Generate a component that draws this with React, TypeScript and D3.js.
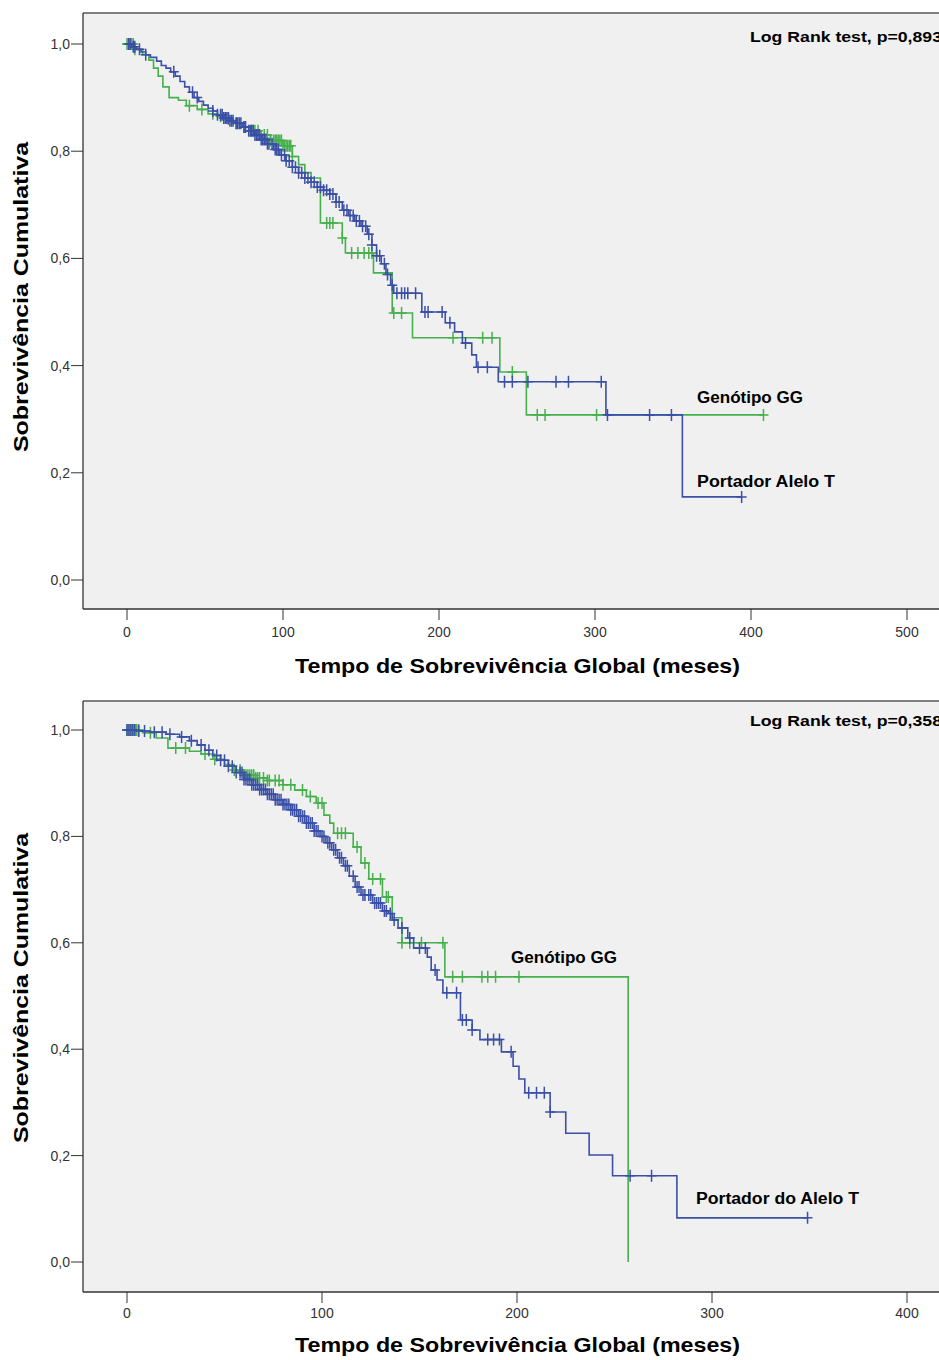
import React, { useEffect, useRef } from 'react';
import * as d3 from 'd3';

type Step = [number, number];

// Painel superior: [tempo (meses), sobrevivência após o evento]
const topGgSteps: Step[] = [
  [5, 0.99], [10, 0.98], [14, 0.97], [17, 0.955], [20, 0.94], [23, 0.92], [27, 0.9],
  [33, 0.895], [38, 0.885], [45, 0.878], [52, 0.87], [58, 0.865], [63, 0.86], [68, 0.852],
  [74, 0.845], [80, 0.838], [86, 0.83], [92, 0.82], [100, 0.81], [106, 0.79], [110, 0.775],
  [114, 0.76], [118, 0.75], [124, 0.666], [138, 0.638], [140, 0.61], [158, 0.573],
  [170, 0.498], [183, 0.452], [239, 0.388], [256, 0.308],
];
const topGgCensors = [
  0, 1, 2, 3, 4, 5, 40, 48, 55, 60, 65, 70, 75, 80, 82, 84, 88, 90, 92, 94, 95, 96, 97, 98,
  99, 100, 101, 102, 103, 104, 105, 106, 128, 130, 132, 138, 144, 148, 152, 155, 157, 171,
  176, 209, 228, 234, 247, 263, 268, 301, 408,
];
const topTSteps: Step[] = [
  [3, 0.995], [6, 0.99], [9, 0.985], [12, 0.98], [15, 0.975], [19, 0.968], [22, 0.96],
  [25, 0.955], [28, 0.948], [31, 0.94], [34, 0.93], [37, 0.92], [40, 0.91], [43, 0.9],
  [46, 0.893], [49, 0.886], [52, 0.88], [55, 0.875], [58, 0.868], [62, 0.862], [66, 0.857],
  [70, 0.852], [74, 0.845], [78, 0.838], [82, 0.83], [86, 0.822], [90, 0.814], [94, 0.803],
  [98, 0.793], [102, 0.782], [106, 0.77], [110, 0.76], [114, 0.75], [118, 0.742],
  [122, 0.733], [126, 0.727], [130, 0.72], [134, 0.705], [138, 0.69], [142, 0.68],
  [146, 0.67], [150, 0.66], [154, 0.645], [157, 0.625], [160, 0.605], [163, 0.59],
  [166, 0.57], [169, 0.55], [171, 0.535], [189, 0.5], [204, 0.48], [210, 0.463],
  [215, 0.442], [221, 0.42], [224, 0.397], [238, 0.37], [307, 0.308], [356, 0.155],
];
const topTCensors = [
  1, 2, 4, 5, 8, 12, 30, 42, 45, 55, 58, 60, 61, 62, 63, 64, 65, 66, 67, 68, 70, 71, 72, 73,
  75, 76, 78, 79, 80, 81, 82, 83, 84, 85, 86, 87, 88, 89, 90, 91, 93, 95, 96, 97, 99, 101,
  102, 104, 106, 108, 110, 112, 114, 116, 118, 120, 122, 124, 126, 128, 130, 132, 134, 136,
  139, 141, 143, 145, 147, 149, 151, 153, 155, 157, 160, 162, 165, 167, 170, 173, 176, 178,
  180, 185, 191, 193, 202, 207, 217, 225, 231, 242, 247, 257, 275, 283, 304, 308, 335, 349,
  394,
];

// Painel inferior
const bottomGgSteps: Step[] = [
  [8, 0.995], [15, 0.985], [21, 0.966], [32, 0.96], [38, 0.955], [44, 0.945], [50, 0.935],
  [55, 0.925], [60, 0.915], [66, 0.91], [72, 0.905], [80, 0.897], [86, 0.887], [92, 0.875],
  [97, 0.863], [101, 0.84], [104, 0.825], [106, 0.806], [116, 0.78], [120, 0.75],
  [124, 0.72], [131, 0.686], [136, 0.647], [141, 0.6], [163, 0.536], [257, 0],
];
const bottomGgCensors = [
  0, 1, 2, 3, 4, 5, 6, 12, 25, 30, 40, 45, 55, 58, 60, 61, 62, 63, 64, 65, 66, 67, 68, 70,
  72, 73, 76, 78, 80, 84, 90, 94, 98, 100, 108, 110, 112, 118, 122, 126, 130, 133, 134, 141,
  145, 151, 162, 167, 172, 182, 185, 189, 201,
];
const bottomTSteps: Step[] = [
  [5, 0.998], [12, 0.996], [20, 0.992], [27, 0.987], [32, 0.98], [36, 0.972], [40, 0.962],
  [44, 0.952], [48, 0.943], [52, 0.932], [56, 0.92], [60, 0.907], [64, 0.897], [68, 0.888],
  [72, 0.879], [76, 0.869], [80, 0.86], [84, 0.85], [88, 0.838], [92, 0.825], [96, 0.81],
  [99, 0.8], [102, 0.788], [105, 0.775], [108, 0.76], [111, 0.745], [114, 0.725],
  [117, 0.705], [120, 0.69], [126, 0.675], [131, 0.66], [134, 0.655], [136, 0.643],
  [139, 0.628], [144, 0.609], [147, 0.59], [154, 0.573], [156, 0.549], [159, 0.53],
  [162, 0.506], [171, 0.455], [177, 0.436], [181, 0.418], [192, 0.395], [198, 0.368],
  [201, 0.344], [204, 0.318], [217, 0.282], [225, 0.242], [237, 0.201], [249, 0.162],
  [282, 0.083],
];
const bottomTCensors = [
  0, 1, 2, 3, 4, 6, 9, 14, 18, 22, 28, 33, 38, 42, 46, 48, 50, 52, 54, 56, 58, 59, 60, 61,
  62, 63, 64, 65, 66, 67, 68, 69, 70, 71, 72, 73, 74, 75, 76, 77, 78, 79, 80, 81, 82, 83, 84,
  85, 86, 87, 88, 89, 90, 91, 92, 93, 94, 95, 96, 97, 98, 100, 101, 103, 104, 106, 107, 109,
  110, 112, 113, 116, 118, 119, 121, 122, 124, 125, 127, 128, 129, 130, 132, 133, 135, 137,
  141, 145, 150, 153, 158, 164, 169, 172, 174, 177, 185, 188, 191, 197, 206, 210, 214, 217,
  258, 269, 349,
];

const yTickValues = [0, 0.2, 0.4, 0.6, 0.8, 1.0];
const yTickLabels = ['0,0', '0,2', '0,4', '0,6', '0,8', '1,0'];
const topXTicks = [0, 100, 200, 300, 400, 500];
const bottomXTicks = [0, 100, 200, 300, 400];
const xTitle = 'Tempo de Sobrevivência Global (meses)';
const yTitle = 'Sobrevivência Cumulativa';
const topLogRank = 'Log Rank test, p=0,893';
const bottomLogRank = 'Log Rank test, p=0,358';
const topLabels = ['Genótipo GG', 'Portador Alelo T'];
const bottomLabels = ['Genótipo GG', 'Portador do Alelo T'];

const BLUE = '#3a4fa6';
const GREEN = '#46b04d';
const FONT = '"Liberation Sans", Arial, sans-serif';

const survAt = (steps: Step[], t: number) => {
  let s = 1;
  for (const [st, sv] of steps) {
    if (st <= t) s = sv;
    else break;
  }
  return s;
};

interface Panel {
  boxTop: number;
  boxBottom: number;
  y1: number;
  y0: number;
  xMax: number;
  xTicks: number[];
  gg: Step[];
  ggC: number[];
  t: Step[];
  tC: number[];
  logRank: string;
  logRankY: number;
  labels: string[];
  labelPos: { x: number; y: number; w: number }[];
  tickLabelY: number;
  titleY: number;
  yTitleCenter: number;
}

export default function App() {
  const svgRef = useRef<SVGSVGElement>(null);

  useEffect(() => {
    document.body.style.margin = '0';
    if (!svgRef.current) return;
    const svg = d3.select(svgRef.current);
    svg.selectAll('*').remove();

    const width = 939;
    const height = 1360;
    svg.attr('width', width).attr('height', height);
    svg.append('rect').attr('width', width).attr('height', height).attr('fill', '#fff');

    const panels: Panel[] = [
      {
        boxTop: 13, boxBottom: 609, y1: 44, y0: 580, xMax: 500, xTicks: topXTicks,
        gg: topGgSteps, ggC: topGgCensors, t: topTSteps, tC: topTCensors,
        logRank: topLogRank, logRankY: 42, labels: topLabels,
        labelPos: [{ x: 697, y: 403, w: 106 }, { x: 697, y: 487, w: 138 }],
        tickLabelY: 637, titleY: 673, yTitleCenter: 297,
      },
      {
        boxTop: 701, boxBottom: 1292, y1: 730, y0: 1262, xMax: 400, xTicks: bottomXTicks,
        gg: bottomGgSteps, ggC: bottomGgCensors, t: bottomTSteps, tC: bottomTCensors,
        logRank: bottomLogRank, logRankY: 726, labels: bottomLabels,
        labelPos: [{ x: 511, y: 963, w: 106 }, { x: 696, y: 1204, w: 163 }],
        tickLabelY: 1318, titleY: 1352, yTitleCenter: 988,
      },
    ];

    const left = 83;

    panels.forEach((p) => {
      const x = d3.scaleLinear().domain([0, p.xMax]).range([127, 907]);
      const y = d3.scaleLinear().domain([0, 1]).range([p.y0, p.y1]);
      const g = svg.append('g');

      // fundo do gráfico
      g.append('rect')
        .attr('x', left).attr('y', p.boxTop)
        .attr('width', width - left + 20).attr('height', p.boxBottom - p.boxTop)
        .attr('fill', '#f0f0f0');
      g.append('line')
        .attr('x1', left).attr('x2', width).attr('y1', p.boxTop).attr('y2', p.boxTop)
        .attr('stroke', '#808080').attr('stroke-width', 2);
      g.append('line')
        .attr('x1', left).attr('x2', left).attr('y1', p.boxTop).attr('y2', p.boxBottom)
        .attr('stroke', '#333').attr('stroke-width', 1.3);
      g.append('line')
        .attr('x1', left).attr('x2', width).attr('y1', p.boxBottom).attr('y2', p.boxBottom)
        .attr('stroke', '#333').attr('stroke-width', 1.5);

      // eixo y
      yTickValues.forEach((v, i) => {
        g.append('line')
          .attr('x1', left - 12).attr('x2', left).attr('y1', y(v)).attr('y2', y(v))
          .attr('stroke', '#333').attr('stroke-width', 1);
        g.append('text')
          .attr('x', left - 13).attr('y', y(v) + 5)
          .attr('text-anchor', 'end')
          .attr('font-family', FONT).attr('font-size', 14).attr('fill', '#333')
          .text(yTickLabels[i]);
      });

      // eixo x
      p.xTicks.forEach((v) => {
        g.append('line')
          .attr('x1', x(v)).attr('x2', x(v)).attr('y1', p.boxBottom).attr('y2', p.boxBottom + 11)
          .attr('stroke', '#333').attr('stroke-width', 1);
        g.append('text')
          .attr('x', x(v)).attr('y', p.tickLabelY)
          .attr('text-anchor', 'middle')
          .attr('font-family', FONT).attr('font-size', 14).attr('fill', '#333')
          .text(String(v));
      });

      g.append('text')
        .attr('x', 295).attr('y', p.titleY)
        .attr('font-family', FONT).attr('font-size', 21).attr('font-weight', 'bold')
        .attr('textLength', 445).attr('lengthAdjust', 'spacingAndGlyphs')
        .text(xTitle);

      g.append('text')
        .attr('transform', `translate(28, ${p.yTitleCenter + 155}) rotate(-90)`)
        .attr('font-family', FONT).attr('font-size', 20).attr('font-weight', 'bold')
        .attr('textLength', 310).attr('lengthAdjust', 'spacingAndGlyphs')
        .text(yTitle);

      // curvas de Kaplan-Meier
      const line = d3.line<Step>()
        .x((d) => x(d[0]))
        .y((d) => y(d[1]))
        .curve(d3.curveStepAfter);

      const drawCurve = (steps: Step[], censors: number[], color: string) => {
        const last = steps[steps.length - 1];
        const end = Math.max(last[0], d3.max(censors) ?? 0);
        const pts: Step[] = [[0, 1], ...steps];
        if (end > last[0]) pts.push([end, last[1]]);
        g.append('path')
          .attr('d', line(pts))
          .attr('fill', 'none')
          .attr('stroke', color)
          .attr('stroke-width', 1.6);
        censors.forEach((c) => {
          const cx = x(c);
          const cy = y(survAt(steps, c));
          g.append('path')
            .attr('d', `M${cx},${cy - 6}V${cy + 6}M${cx - 5},${cy}H${cx + 5}`)
            .attr('stroke', color)
            .attr('stroke-width', 1.5)
            .attr('fill', 'none');
        });
      };

      drawCurve(p.gg, p.ggC, GREEN);
      drawCurve(p.t, p.tC, BLUE);

      // rótulos
      p.labels.forEach((lab, i) => {
        const pos = p.labelPos[i];
        g.append('text')
          .attr('x', pos.x).attr('y', pos.y)
          .attr('font-family', FONT).attr('font-size', 16).attr('font-weight', 'bold')
          .attr('textLength', pos.w).attr('lengthAdjust', 'spacingAndGlyphs')
          .attr('fill', '#000')
          .text(lab);
      });

      g.append('text')
        .attr('x', 750).attr('y', p.logRankY)
        .attr('font-family', FONT).attr('font-size', 15).attr('font-weight', 'bold')
        .attr('textLength', 192).attr('lengthAdjust', 'spacingAndGlyphs')
        .attr('fill', '#000')
        .text(p.logRank);
    });
  }, []);

  return <svg ref={svgRef} style={{ display: 'block' }}></svg>;
}
